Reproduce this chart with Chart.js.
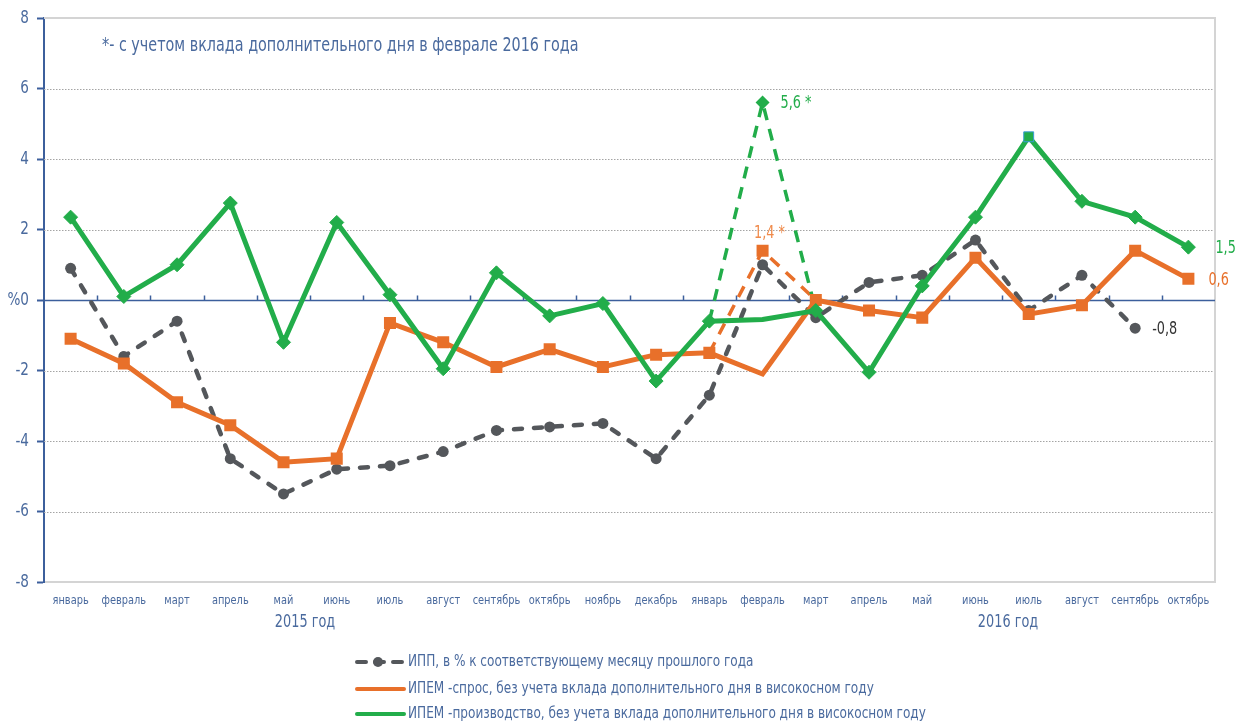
<!DOCTYPE html>
<html>
<head>
<meta charset="utf-8">
<script src="https://cdn.jsdelivr.net/npm/chart.js@4.4.0/dist/chart.umd.min.js"></script>
<style>
  html, body { margin: 0; padding: 0; background: #fff; }
  #wrap { width: 1237px; height: 722px; }
</style>
</head>
<body>
<div id="wrap"><canvas id="chart" width="1237" height="722"></canvas></div>
<script>
// --- data ---
const months = ['январь', 'февраль', 'март', 'апрель', 'май', 'июнь', 'июль', 'август', 'сентябрь', 'октябрь', 'ноябрь', 'декабрь',
                'январь', 'февраль', 'март', 'апрель', 'май', 'июнь', 'июль', 'август', 'сентябрь', 'октябрь'];
const years = ['2015 год', '2016 год'];

const ipp        = [0.9, -1.6, -0.6, -4.5, -5.5, -4.8, -4.7, -4.3, -3.7, -3.6, -3.5, -4.5, -2.7, 1.0, -0.5, 0.5, 0.7, 1.7, -0.3, 0.7, -0.8, null];
const demand     = [-1.1, -1.8, -2.9, -3.55, -4.6, -4.5, -0.65, -1.2, -1.9, -1.4, -1.9, -1.55, -1.5, -2.1, 0.0, -0.3, -0.5, 1.2, -0.4, -0.15, 1.4, 0.6];
const production = [2.35, 0.1, 1.0, 2.75, -1.2, 2.2, 0.15, -1.95, 0.77, -0.45, -0.1, -2.3, -0.6, -0.55, -0.3, -2.05, 0.4, 2.35, 4.63, 2.8, 2.35, 1.5];

// February 2016 including the extra leap-year day
const demandLeap     = [null, null, null, null, null, null, null, null, null, null, null, null, -1.5, 1.4, 0.0, null, null, null, null, null, null, null];
const productionLeap = [null, null, null, null, null, null, null, null, null, null, null, null, -0.6, 5.6, -0.3, null, null, null, null, null, null, null];

const yTicks = [-8, -6, -4, -2, 0, 2, 4, 6, 8];

const seriesNames = [
    'ИПП, в % к соответствующему месяцу прошлого года',
    'ИПЕМ -спрос, без учета вклада дополнительного дня в високосном году',
    'ИПЕМ -производство, без учета вклада дополнительного дня в високосном году'
];
const footnote = '*- с учетом вклада дополнительного дня в феврале 2016 года';

const FONT = "'DejaVu Sans Condensed', 'Liberation Sans Narrow', sans-serif";
const SQUEEZE = 0.84; // the original uses a narrow face
const BLUE = '#3c5f9c';
const TEXT = '#4a6a9e';
const GREEN = '#22ad4a';
const ORANGE = '#e8702a';
const GREY = '#54575b';
const LEAP = 13; // index of February 2016

const fmt = v => String(v.toFixed(1)).replace('.', ',');

function narrowText(ctx, text, x, y, align) {
    ctx.save();
    ctx.translate(x, y);
    ctx.scale(SQUEEZE, 1);
    ctx.textAlign = align;
    ctx.fillText(text, 0, 0);
    ctx.restore();
}

const framePlugin = {
    id: 'frame',
    beforeDatasetsDraw(chart) {
        const { ctx, chartArea: a, scales: { x, y } } = chart;
        ctx.save();
        // dotted gridlines
        ctx.strokeStyle = '#a4a4a4';
        ctx.lineWidth = 1;
        ctx.setLineDash([1.5, 1.5]);
        yTicks.forEach(v => {
            if (v === 0 || v === y.max || v === y.min) return;
            const py = Math.round(y.getPixelForValue(v)) + 0.5;
            ctx.beginPath(); ctx.moveTo(a.left, py); ctx.lineTo(a.right, py); ctx.stroke();
        });
        ctx.setLineDash([]);
        // top and right border
        ctx.strokeStyle = '#d4d4d4';
        ctx.lineWidth = 2;
        ctx.beginPath();
        ctx.moveTo(a.left, a.top); ctx.lineTo(a.right, a.top); ctx.lineTo(a.right, a.bottom);
        ctx.stroke();
        // zero axis with category ticks
        const y0 = Math.round(y.getPixelForValue(0)) + 0.5;
        const step = x.getPixelForValue(1) - x.getPixelForValue(0);
        ctx.strokeStyle = BLUE;
        ctx.lineWidth = 1.5;
        ctx.beginPath();
        ctx.moveTo(a.left, y0); ctx.lineTo(a.right, y0);
        for (let i = 1; i < months.length; i++) {
            const px = Math.round(x.getPixelForValue(i) - step / 2) + 0.5;
            ctx.moveTo(px, y0); ctx.lineTo(px, y0 - 5);
        }
        ctx.stroke();
        ctx.restore();
    },
    afterDraw(chart) {
        const { ctx, scales: { x, y } } = chart;
        ctx.save();
        ctx.textBaseline = 'middle';
        ctx.fillStyle = TEXT;

        // axis labels
        ctx.font = `18px ${FONT}`;
        yTicks.forEach(v => narrowText(ctx, v === 0 ? '%0' : String(v), 29, y.getPixelForValue(v), 'right'));
        ctx.font = `13px ${FONT}`;
        months.forEach((m, i) => narrowText(ctx, m, x.getPixelForValue(i), 601, 'center'));

        // footnote
        ctx.font = `19px ${FONT}`;
        narrowText(ctx, footnote, 102, 46, 'left');

        // year captions
        ctx.font = `17px ${FONT}`;
        narrowText(ctx, years[0], 305, 623, 'center');
        narrowText(ctx, years[1], 1008, 623, 'center');

        // value notes next to points
        const notes = [
            { ds: 3, i: LEAP, text: fmt(productionLeap[LEAP]) + ' *', color: GREEN, dx: 18, dy: 1, align: 'left' },
            { ds: 4, i: LEAP, text: fmt(demandLeap[LEAP]) + ' *', color: '#f08a4a', dx: 7, dy: -17, align: 'center' },
            { ds: 2, i: 20, text: fmt(ipp[20]), color: '#333', dx: 17, dy: 1, align: 'left' },
            { ds: 0, i: 21, text: fmt(production[21]), color: GREEN, dx: 27, dy: 1, align: 'left' },
            { ds: 1, i: 21, text: fmt(demand[21]), color: ORANGE, dx: 20, dy: 2, align: 'left' }
        ];
        ctx.font = `17px ${FONT}`;
        notes.forEach(n => {
            const pt = chart.getDatasetMeta(n.ds).data[n.i];
            ctx.fillStyle = n.color;
            narrowText(ctx, n.text, pt.x + n.dx, pt.y + n.dy, n.align);
        });

        // legend
        const rows = [
            { color: GREY, dashed: true },
            { color: ORANGE, dashed: false },
            { color: GREEN, dashed: false }
        ];
        const rowY = [662, 689, 714];
        ctx.font = `16px ${FONT}`;
        rows.forEach((r, k) => {
            const ly = rowY[k];
            ctx.strokeStyle = r.color;
            ctx.lineWidth = 4;
            ctx.lineCap = 'round';
            ctx.setLineDash(r.dashed ? [9, 9] : []);
            ctx.beginPath(); ctx.moveTo(357, ly); ctx.lineTo(404, ly); ctx.stroke();
            ctx.setLineDash([]);
            if (r.dashed) {
                ctx.fillStyle = r.color;
                ctx.beginPath(); ctx.arc(378, ly, 5, 0, Math.PI * 2); ctx.fill();
            }
            ctx.fillStyle = TEXT;
            narrowText(ctx, seriesNames[k], 408, ly, 'left');
        });
        ctx.restore();
    }
};

const hideAtLeap = (size) => (c) => c.dataIndex === LEAP ? 0 : size;

new Chart(document.getElementById('chart'), {
    type: 'line',
    data: {
        labels: months,
        datasets: [
            {
                label: seriesNames[2],
                data: production,
                borderColor: GREEN,
                backgroundColor: GREEN,
                borderWidth: 5,
                pointStyle: c => c.dataIndex === 18 ? 'rect' : 'rectRot',
                pointRadius: hideAtLeap(7),
                pointBorderColor: c => c.dataIndex === 18 ? '#3a9bd5' : GREEN,
                pointBorderWidth: 1,
                tension: 0,
                order: 1
            },
            {
                label: seriesNames[1],
                data: demand,
                borderColor: ORANGE,
                backgroundColor: ORANGE,
                borderWidth: 5,
                pointStyle: 'rect',
                pointRadius: hideAtLeap(8.5),
                pointBorderWidth: 0,
                tension: 0,
                order: 2
            },
            {
                label: seriesNames[0],
                data: ipp,
                borderColor: GREY,
                backgroundColor: GREY,
                borderWidth: 4.5,
                borderDash: [8, 12],
                borderCapStyle: 'round',
                pointStyle: 'circle',
                pointRadius: 5.5,
                pointBorderWidth: 0,
                tension: 0,
                order: 3
            },
            {
                label: 'production leap',
                data: productionLeap,
                borderColor: GREEN,
                backgroundColor: GREEN,
                borderWidth: 3.5,
                borderDash: [12, 9],
                pointStyle: 'rectRot',
                pointRadius: c => c.dataIndex === LEAP ? 7 : 0,
                pointBorderWidth: 0,
                tension: 0,
                order: 4
            },
            {
                label: 'demand leap',
                data: demandLeap,
                borderColor: ORANGE,
                backgroundColor: ORANGE,
                borderWidth: 3.5,
                borderDash: [12, 9],
                pointStyle: 'rect',
                pointRadius: c => c.dataIndex === LEAP ? 8.5 : 0,
                pointBorderWidth: 0,
                tension: 0,
                order: 5
            }
        ]
    },
    options: {
        responsive: false,
        animation: false,
        devicePixelRatio: 1,
        layout: { padding: { top: 18, right: 22, left: 0, bottom: 0 } },
        plugins: {
            legend: { display: false },
            tooltip: { enabled: false }
        },
        scales: {
            x: {
                offset: true,
                grid: { display: false },
                border: { display: true, color: '#d4d4d4', width: 2 },
                ticks: { display: false },
                afterFit(scale) { scale.height = 140; }
            },
            y: {
                min: -8,
                max: 8,
                afterBuildTicks(scale) { scale.ticks = yTicks.map(v => ({ value: v })); },
                grid: { drawOnChartArea: false, drawTicks: true, tickLength: 7, tickColor: BLUE, tickWidth: 2 },
                border: { display: true, color: BLUE, width: 2 },
                ticks: { display: false },
                afterFit(scale) { scale.width = 44; }
            }
        }
    },
    plugins: [framePlugin]
});
</script>
</body>
</html>
